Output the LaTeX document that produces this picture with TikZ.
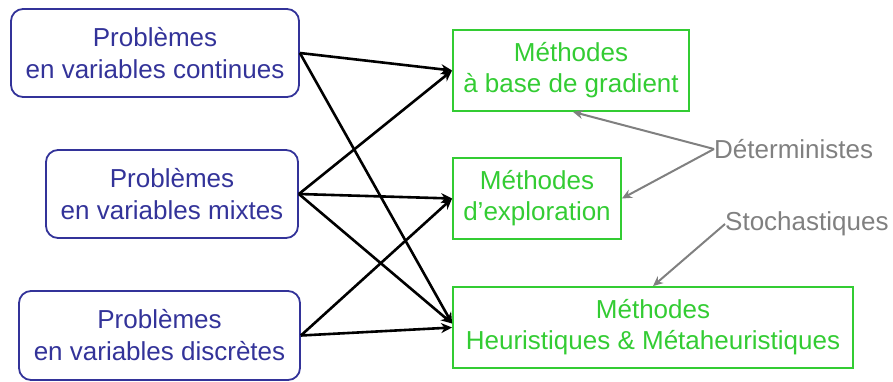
\documentclass[tikz,border=0pt]{standalone}
\usepackage{fontspec}
\setmainfont{Liberation Sans}
\usetikzlibrary{arrows.meta}
\definecolor{probblue}{RGB}{51,51,153}
\definecolor{methgreen}{RGB}{51,204,51}
\definecolor{notegray}{RGB}{128,128,128}
\begin{document}
\begin{tikzpicture}[x=1pt,y=-1pt,
  prob/.style={draw=probblue,line width=1.8pt,rounded corners=12pt,text=probblue,
    align=center,font=\fontsize{26}{32}\selectfont,inner sep=0pt},
  meth/.style={draw=methgreen,line width=1.8pt,text=methgreen,
    align=center,font=\fontsize{26}{31}\selectfont,inner sep=0pt},
  link/.style={line width=2.6pt,-{Stealth[length=11pt,width=10pt]}},
  note/.style={text=notegray,font=\fontsize{26}{30}\selectfont,inner sep=0pt},
  notelink/.style={draw=notegray,line width=2pt,-{Stealth[length=10pt,width=9pt]}}]
\useasboundingbox (0,0) rectangle (893,381);
\node[prob,minimum width=288pt,minimum height=88pt] (b1) at (155,53) {Problèmes\\en variables continues};
\node[prob,minimum width=252pt,minimum height=88pt] (b2) at (172,194) {Problèmes\\en variables mixtes};
\node[prob,minimum width=281pt,minimum height=89pt] (b3) at (159.5,335.5) {Problèmes\\en variables discrètes};
\node[meth,minimum width=236pt,minimum height=81pt] (g1) at (571,70.5) {Méthodes\\à base de gradient};
\node[meth,minimum width=168pt,minimum height=81pt] (g2) at (537,198.5) {Méthodes\\d’exploration};
\node[meth,minimum width=400pt,minimum height=81pt] (g3) at (653,327.5) {Méthodes\\Heuristiques \& Métaheuristiques};
\node[note,anchor=west] (det) at (714,149) {Déterministes};
\node[note,anchor=west] (sto) at (725,224) {Stochastiques};
\draw[link] (b1.east) -- (g1.west);
\draw[link] (b1.east) -- ([yshift=4pt]g3.west);
\draw[link] (b2.east) -- (g1.west);
\draw[link] (b2.east) -- (g2.west);
\draw[link] (b2.east) -- ([yshift=4pt]g3.west);
\draw[link] (b3.east) -- (g2.west);
\draw[link] (b3.east) -- (g3.west);
\draw[notelink] (det.west) -- ([xshift=2pt]g1.south);
\draw[notelink] (det.west) -- (g2.east);
\draw[notelink] (sto.west) -- (g3.north);
\end{tikzpicture}
\end{document}
